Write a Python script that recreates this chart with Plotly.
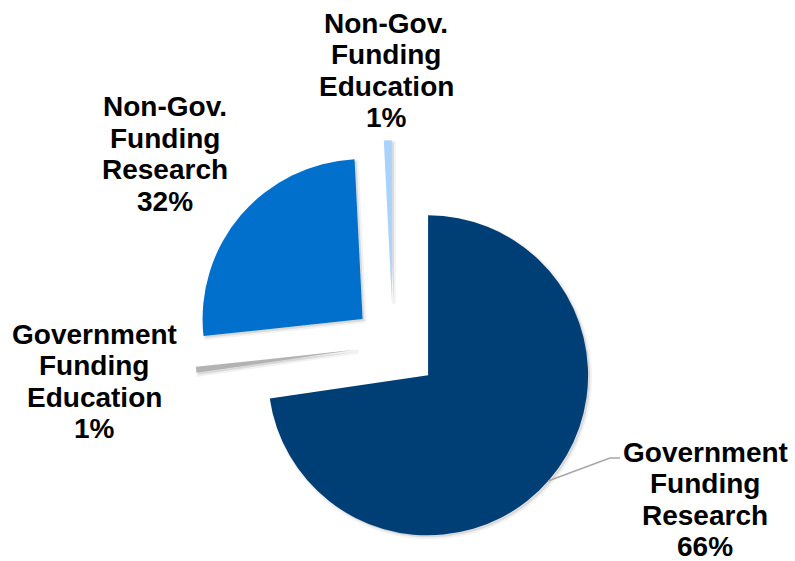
import plotly.graph_objects as go

# ---- data ----
categories = ["Government Funding Research", "Government Funding Education",
              "Non-Gov. Funding Research", "Non-Gov. Funding Education"]
values = [72.7, 0.6, 25.9, 0.8]          # slice sizes as drawn
percent_labels = ["66%", "1%", "32%", "1%"]  # percentages as printed
label_lines = [["Government", "Funding", "Research"],
               ["Government", "Funding", "Education"],
               ["Non-Gov.", "Funding", "Research"],
               ["Non-Gov.", "Funding", "Education"]]
colors = ["#003f75", "#b3b3b3", "#0070cc", "#a9d3fb"]
pulls = [0.29, 0.24, 0.25, 0.28]

W, H = 795, 561
cx, cy, R = 393, 345, 160
maxpull = max(pulls)
half = R * (1 + maxpull)

def dom(dx=0, dy=0):
    return dict(x=[(cx + dx - half) / W, (cx + dx + half) / W],
                y=[1 - (cy + dy + half) / H, 1 - (cy + dy - half) / H])

fig = go.Figure()
# soft shadow
fig.add_trace(go.Pie(values=values, labels=categories, sort=False, direction="clockwise",
                     pull=pulls, domain=dom(2, 2), textinfo="none", hoverinfo="skip",
                     marker=dict(colors=["rgba(0,0,0,0.10)"] * 4,
                                 line=dict(color="rgba(0,0,0,0.05)", width=4)),
                     showlegend=False))
fig.add_trace(go.Pie(values=values, labels=categories, sort=False, direction="clockwise",
                     pull=pulls, domain=dom(), textinfo="none", hoverinfo="label+percent",
                     marker=dict(colors=colors, line=dict(width=0)),
                     showlegend=False))

# label placement: centre x and first-line y (pixels), line step
label_pos = [(705, 452), (94, 334), (165, 107), (386, 23)]
step = 31.5
for lines, pct, (lx, ly) in zip(label_lines, percent_labels, label_pos):
    for i, t in enumerate(lines + [pct]):
        fig.add_annotation(x=lx / W, y=1 - (ly + i * step) / H, xref="paper", yref="paper",
                           text=t, showarrow=False, borderpad=0,
                           xanchor="center", yanchor="middle", align="center",
                           font=dict(family="Liberation Sans, Arial, sans-serif", size=28,
                                     color="#000000", weight="bold"))

# leader line for Government Funding Research
pts = [(548, 481), (610, 458), (620, 458)]
path = "M " + " L ".join(f"{x / W},{1 - y / H}" for x, y in pts)
fig.add_shape(type="path", path=path, xref="paper", yref="paper",
              line=dict(color="#a6a6a6", width=1.5))

fig.update_layout(width=W, height=H, margin=dict(l=0, r=0, t=0, b=0),
                  paper_bgcolor="white", plot_bgcolor="white")
fig.write_html("out.html")
